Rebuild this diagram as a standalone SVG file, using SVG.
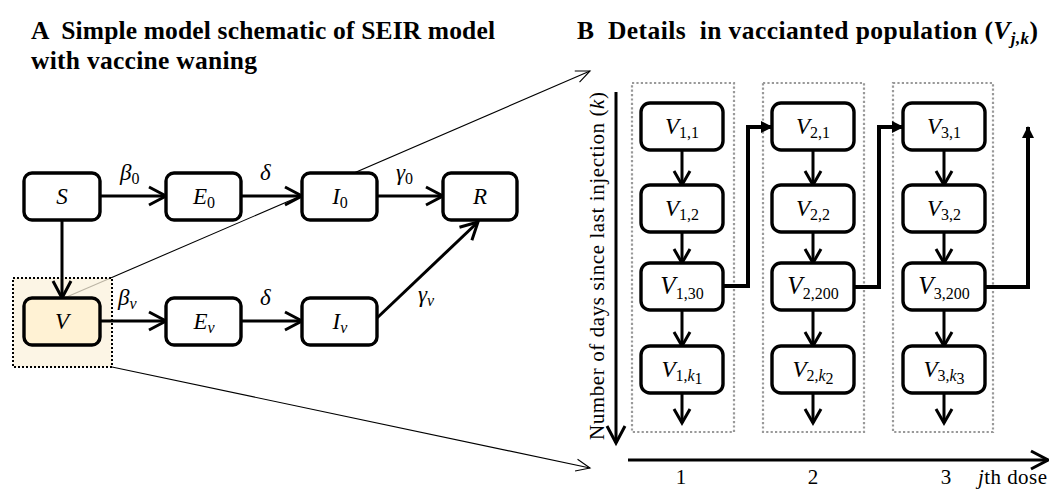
<svg xmlns="http://www.w3.org/2000/svg" width="1049" height="489" viewBox="0 0 1049 489">
<style>
.box{fill:#fff;stroke:#000;stroke-width:3.4}
.vbox{fill:#FFF2D4;stroke:#000;stroke-width:3.4}
.arr{fill:none;stroke:#000;stroke-width:3;marker-end:url(#chev)}
.arrs{fill:none;stroke:#000;stroke-width:3;marker-end:url(#chevs)}
.conn{fill:none;stroke:#000;stroke-width:4;marker-end:url(#tri)}
.thin{fill:none;stroke:#000;stroke-width:1.1}
.gdot{fill:none;stroke:#999;stroke-width:2.2;stroke-dasharray:2.2 2.2}
.m{font-family:"Liberation Serif","Times New Roman",Tinos,"DejaVu Serif",serif;font-style:italic;font-size:23px;fill:#000}
.mb{font-family:"Liberation Serif","Times New Roman",Tinos,"DejaVu Serif",serif;font-style:italic;font-size:25px;fill:#000}
.sub{font-style:normal;font-size:16px}
.subi{font-style:italic;font-size:16px}
.t{font-family:"Liberation Serif","Times New Roman",Tinos,"DejaVu Serif",serif;font-weight:bold;font-size:25.5px;fill:#000;white-space:pre}
.ax{font-family:"Liberation Serif","Times New Roman",Tinos,"DejaVu Serif",serif;font-size:21px;fill:#000}
.c{text-anchor:middle}
</style>
<defs>
<marker id="chev" markerUnits="userSpaceOnUse" markerWidth="26" markerHeight="26" refX="20" refY="13" orient="auto"><path d="M3,4 L20,13 L3,22" fill="none" stroke="#000" stroke-width="3"/></marker>
<marker id="chevs" markerUnits="userSpaceOnUse" markerWidth="24" markerHeight="24" refX="18" refY="12" orient="auto"><path d="M4,4 L18,12 L4,20" fill="none" stroke="#000" stroke-width="3"/></marker>
<marker id="tri" markerUnits="userSpaceOnUse" markerWidth="14" markerHeight="14" refX="11" refY="7" orient="auto"><path d="M0,1 L12,7 L0,13 Z" fill="#000"/></marker>
<marker id="thinchev" markerUnits="userSpaceOnUse" markerWidth="20" markerHeight="20" refX="16" refY="10" orient="auto"><path d="M2,4 L16,10 L2,16" fill="none" stroke="#000" stroke-width="1.1"/></marker>
</defs>
<rect width="1049" height="489" fill="#fff"/>
<!-- titles -->
<text class="t" x="31" y="39" textLength="464">A  Simple model schematic of SEIR model</text>
<text class="t" x="31" y="69" textLength="226">with vaccine waning</text>
<text class="t" x="577" y="39" textLength="461">B  Details  in vaccianted population (<tspan font-style="italic">V</tspan><tspan font-style="italic" font-size="17" dy="5">j,k</tspan><tspan dy="-5">)</tspan></text>
<!-- zoom lines -->
<g id="zoom-lines">
<path class="thin" d="M62,299 L590,71" marker-end="url(#thinchev)"/>
<path class="thin" d="M112,367 L590,468" marker-end="url(#thinchev)"/>
</g>
<rect id="highlight" x="13" y="278" width="99" height="89" fill="#FBF1DC" fill-opacity="0.75" stroke="#000" stroke-width="2" stroke-dasharray="2 2"/>
<!-- connectors panel A -->
<g id="connectors-A">
<path class="arr" d="M100,196 H166"/>
<path class="arr" d="M241,196 H302"/>
<path class="arr" d="M377,196 H443"/>
<path class="arr" d="M62,220 V298"/>
<path class="arr" d="M100,321 H166"/>
<path class="arr" d="M241,321 H302"/>
<path class="arr" d="M377,318 L478,222"/>
<text class="m" x="120" y="180">β<tspan class="sub" dy="4">0</tspan></text>
<text class="m" x="260" y="180">δ</text>
<text class="m" x="396" y="180">γ<tspan class="sub" dy="4">0</tspan></text>
<text class="m" x="118" y="305">β<tspan class="subi" dy="4">v</tspan></text>
<text class="m" x="260" y="305">δ</text>
<text class="m" x="418" y="302">γ<tspan class="subi" dy="4">v</tspan></text>
</g>
<!-- nodes panel A -->
<g id="node-S"><rect class="box" x="24" y="173" width="76" height="47" rx="8"/><text class="m c" x="62" y="204">S</text></g>
<g id="node-E0"><rect class="box" x="166" y="173" width="75" height="47" rx="8"/><text class="m c" x="204" y="204">E<tspan class="sub" dy="4">0</tspan></text></g>
<g id="node-I0"><rect class="box" x="302" y="173" width="75" height="47" rx="8"/><text class="m c" x="340" y="204">I<tspan class="sub" dy="4">0</tspan></text></g>
<g id="node-R"><rect class="box" x="443" y="173" width="74" height="47" rx="8"/><text class="m c" x="480" y="204">R</text></g>
<g id="node-V"><rect class="vbox" x="24" y="298" width="76" height="47" rx="8"/><text class="m c" x="62" y="329">V</text></g>
<g id="node-Ev"><rect class="box" x="166" y="298" width="75" height="47" rx="8"/><text class="m c" x="204" y="329">E<tspan class="subi" dy="4">v</tspan></text></g>
<g id="node-Iv"><rect class="box" x="302" y="298" width="75" height="47" rx="8"/><text class="m c" x="340" y="329">I<tspan class="subi" dy="4">v</tspan></text></g>
<!-- panel B groups -->
<g id="dose-columns">
<rect class="gdot" x="632" y="83" width="102" height="349"/>
<rect class="gdot" x="763" y="83" width="101" height="349"/>
<rect class="gdot" x="893" y="83" width="100" height="349"/>
</g>
<!-- connectors panel B -->
<g id="connectors-B">
<path class="arrs" d="M682,150 V185"/>
<path class="arrs" d="M682,232 V263"/>
<path class="arrs" d="M682,310 V346"/>
<path class="arrs" d="M682,393 V423"/>
<path class="arrs" d="M813,150 V185"/>
<path class="arrs" d="M813,232 V263"/>
<path class="arrs" d="M813,310 V346"/>
<path class="arrs" d="M813,393 V423"/>
<path class="arrs" d="M944,150 V185"/>
<path class="arrs" d="M944,232 V263"/>
<path class="arrs" d="M944,310 V346"/>
<path class="arrs" d="M944,393 V423"/>
<path class="conn" d="M723,286 H748 V127 H772"/>
<path class="conn" d="M854,287 H879 V127 H903"/>
<path class="conn" d="M985,287 H1028 V127"/>
<path class="arr" d="M616,92 V443"/>
<path class="arr" d="M628,460 H1048"/>
</g>
<!-- nodes panel B -->
<g id="node-V11"><rect class="box" x="641" y="103" width="82" height="47" rx="9"/><text class="m c" x="682" y="134">V<tspan class="sub" dy="4">1,1</tspan></text></g>
<g id="node-V12"><rect class="box" x="641" y="185" width="82" height="47" rx="9"/><text class="m c" x="682" y="216">V<tspan class="sub" dy="4">1,2</tspan></text></g>
<g id="node-V130"><rect class="box" x="641" y="263" width="82" height="47" rx="9"/><text class="mb c" x="682" y="294">V<tspan class="sub" font-size="18" dy="5">1,30</tspan></text></g>
<g id="node-V1k"><rect class="box" x="641" y="346" width="82" height="47" rx="9"/><text class="m c" x="682" y="377">V<tspan class="sub" dy="4">1,</tspan><tspan class="subi">k</tspan><tspan class="sub" font-size="12" dy="3">1</tspan></text></g>
<g id="node-V21"><rect class="box" x="772" y="103" width="82" height="47" rx="9"/><text class="m c" x="813" y="134">V<tspan class="sub" dy="4">2,1</tspan></text></g>
<g id="node-V22"><rect class="box" x="772" y="185" width="82" height="47" rx="9"/><text class="m c" x="813" y="216">V<tspan class="sub" dy="4">2,2</tspan></text></g>
<g id="node-V2200"><rect class="box" x="772" y="263" width="82" height="47" rx="9"/><text class="mb c" x="813" y="294">V<tspan class="sub" font-size="17" dy="5">2,200</tspan></text></g>
<g id="node-V2k"><rect class="box" x="772" y="346" width="82" height="47" rx="9"/><text class="m c" x="813" y="377">V<tspan class="sub" dy="4">2,</tspan><tspan class="subi">k</tspan><tspan class="sub" font-size="12" dy="3">2</tspan></text></g>
<g id="node-V31"><rect class="box" x="903" y="103" width="82" height="47" rx="9"/><text class="m c" x="944" y="134">V<tspan class="sub" dy="4">3,1</tspan></text></g>
<g id="node-V32"><rect class="box" x="903" y="185" width="82" height="47" rx="9"/><text class="m c" x="944" y="216">V<tspan class="sub" dy="4">3,2</tspan></text></g>
<g id="node-V3200"><rect class="box" x="903" y="263" width="82" height="47" rx="9"/><text class="mb c" x="944" y="294">V<tspan class="sub" font-size="17" dy="5">3,200</tspan></text></g>
<g id="node-V3k"><rect class="box" x="903" y="346" width="82" height="47" rx="9"/><text class="m c" x="944" y="377">V<tspan class="sub" dy="4">3,</tspan><tspan class="subi">k</tspan><tspan class="sub" font-size="12" dy="3">3</tspan></text></g>
<!-- axes labels -->
<text class="ax c" transform="translate(604,266) rotate(-90)" textLength="348">Number of days since last injection (<tspan font-style="italic">k</tspan>)</text>
<text class="ax c" x="681" y="484" font-size="22">1</text>
<text class="ax c" x="813" y="484" font-size="22">2</text>
<text class="ax c" x="946" y="484" font-size="22">3</text>
<text class="ax" x="978" y="484" font-size="23" textLength="69"><tspan font-style="italic">j</tspan>th dose</text>
</svg>
